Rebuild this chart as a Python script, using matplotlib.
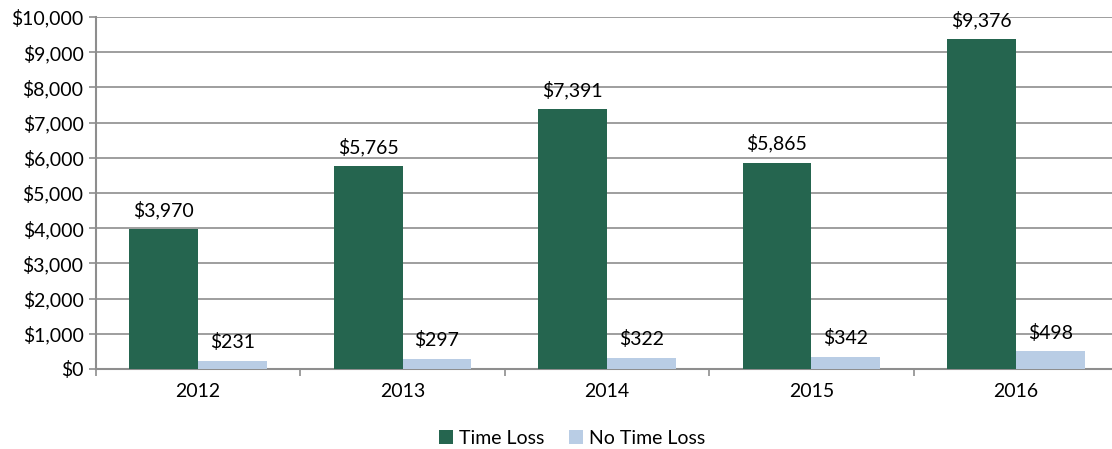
import matplotlib
matplotlib.use("Agg")
import matplotlib.pyplot as plt
import numpy as np
from matplotlib.ticker import FuncFormatter, FixedLocator

years = ["2012", "2013", "2014", "2015", "2016"]
time_loss = [3970, 5765, 7391, 5865, 9376]
no_time_loss = [231, 297, 322, 342, 498]

plt.rcParams['font.family'] = ['Lato', 'DejaVu Sans']

W, H = 1112, 449
fig = plt.figure(figsize=(W/100, H/100), dpi=100)
left = 96 / W
right = 1118 / W
bottom = (H - 369) / H
top = (H - 17) / H
ax = fig.add_axes([left, bottom, right - left, top - bottom])

green = "#25654F"
light = "#B9CDE5"
grid_c = "#8E8E8E"
fs = 14

x = np.arange(len(years))
bw = 0.337
b1 = ax.bar(x - bw/2, time_loss, bw, color=green, label="Time Loss", zorder=3)
b2 = ax.bar(x + bw/2, no_time_loss, bw, color=light, label="No Time Loss", zorder=3)

for rect, v in zip(b1, time_loss):
    ax.annotate(f"${v:,}", (rect.get_x() + rect.get_width()/2, v), xytext=(0, 7),
                textcoords="offset points", ha="center", va="bottom", fontsize=fs, zorder=4)
for rect, v in zip(b2, no_time_loss):
    ax.annotate(f"${v:,}", (rect.get_x() + rect.get_width()/2, v), xytext=(0, 7),
                textcoords="offset points", ha="center", va="bottom", fontsize=fs, zorder=4)

ax.set_xlim(-0.5, len(years) - 0.5)
ax.set_ylim(0, 10000)
ax.set_yticks(np.arange(0, 10001, 1000))
ax.yaxis.set_major_formatter(FuncFormatter(lambda v, p: f"${int(v):,}"))
ax.set_xticks(x)
ax.set_xticklabels(years)
ax.xaxis.set_minor_locator(FixedLocator(np.arange(-0.5, len(years), 1.0)))
ax.tick_params(axis='x', which='major', length=0, pad=10, labelsize=fs)
ax.tick_params(axis='x', which='minor', length=5, color=grid_c, width=1.2)
ax.tick_params(axis='y', length=5, color=grid_c, width=1.2, labelsize=fs, pad=4)

ax.grid(axis='y', color=grid_c, linewidth=1.2, zorder=0)
for s in ['top', 'right']:
    ax.spines[s].set_visible(False)
for s in ['left', 'bottom']:
    ax.spines[s].set_color(grid_c)
    ax.spines[s].set_linewidth(1.5)

handles = [b1, b2]
fig.legend(handles, ["Time Loss", "No Time Loss"], loc="center", bbox_to_anchor=(572/W, (H - 438)/H),
           ncol=2, frameon=False, fontsize=fs, handlelength=0.7, handleheight=0.7,
           handletextpad=0.3, columnspacing=1.3)

fig.savefig("out.png", dpi=100)
